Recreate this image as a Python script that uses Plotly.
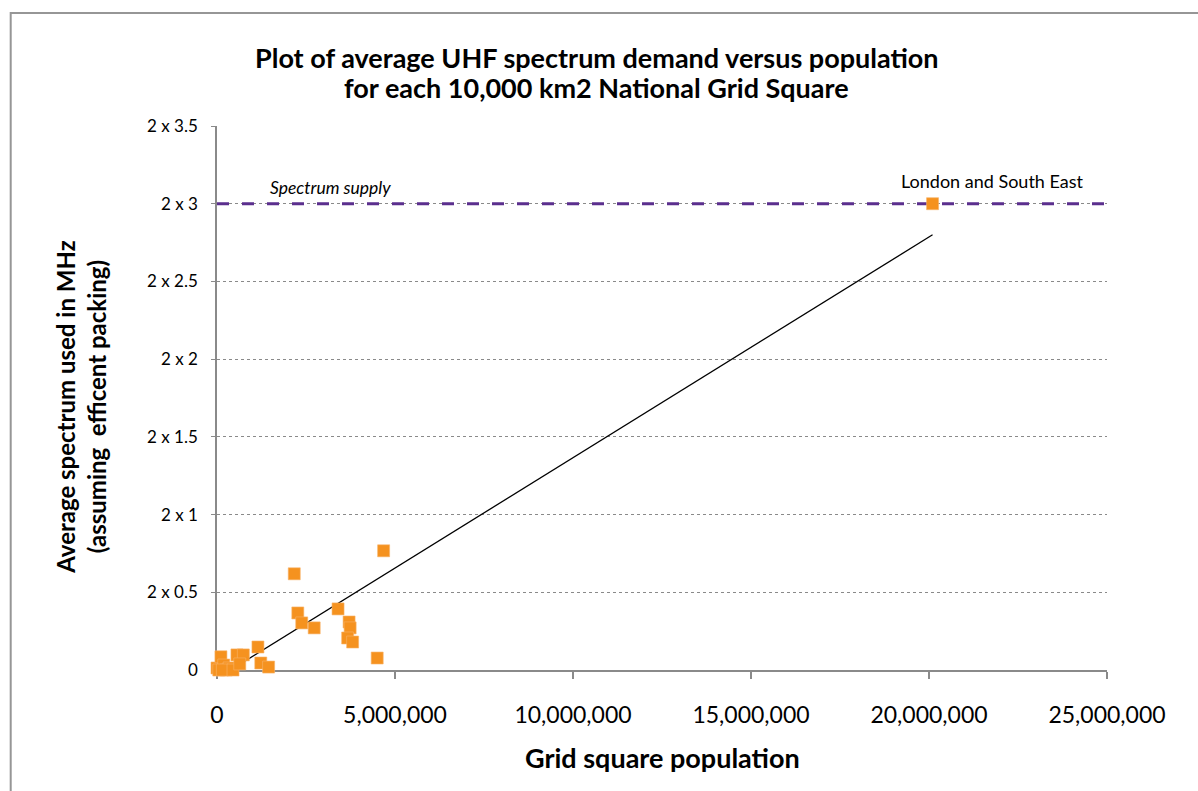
import plotly.graph_objects as go

# Grid square population vs. average UHF spectrum demand (units of 2 x N MHz)
population = [
    0, 50000, 110000, 190000, 260000, 340000, 150000, 450000,
    560000, 740000, 640000, 1150000, 1230000, 1450000,
    2170000, 2270000, 2380000, 2730000, 3400000, 3710000,
    3740000, 3670000, 3810000, 4500000, 4680000, 20100000,
]
demand = [
    0.013, 0.0, 0.085, 0.032, 0.0, 0.013, 0.0, 0.0,
    0.097, 0.097, 0.039, 0.148, 0.045, 0.019,
    0.619, 0.367, 0.303, 0.271, 0.393, 0.309,
    0.271, 0.206, 0.180, 0.077, 0.767, 3.0,
]

# Linear trend across the data range
trend_x = [380000, 20100000]
trend_y = [0.0, 2.80]

# Available spectrum
supply_level = 3.0
supply_x = [0, 25000000]

x_tick_vals = [0, 5000000, 10000000, 15000000, 20000000, 25000000]
y_tick_vals = [0, 0.5, 1, 1.5, 2, 2.5, 3, 3.5]
y_tick_text = ["0", "2 x 0.5", "2 x 1", "2 x 1.5", "2 x 2", "2 x 2.5", "2 x 3", "2 x 3.5"]

title_lines = [
    "Plot of average UHF spectrum demand versus population",
    "for each 10,000 km2 National Grid Square",
]

FONT = "Lato"
AXIS_GREY = "#8a8a8a"

fig = go.Figure()

fig.add_trace(go.Scatter(
    x=supply_x, y=[supply_level] * len(supply_x), mode="lines",
    line=dict(color="#5B2F8E", width=3, dash="12px,13px"),
    cliponaxis=False, hoverinfo="skip", showlegend=False,
))

fig.add_trace(go.Scatter(
    x=trend_x, y=trend_y, mode="lines",
    line=dict(color="black", width=1.3),
    hoverinfo="skip", showlegend=False,
))

fig.add_trace(go.Scatter(
    x=population, y=demand, mode="markers",
    marker=dict(symbol="square", size=12, color="#F5921F",
                line=dict(width=0.6, color="#F9B46A")),
    cliponaxis=False, showlegend=False,
))

annotations = [
    dict(text=f"<b>{line}</b>", xref="paper", yref="paper", x=0.4265, y=yp,
         xanchor="center", yanchor="middle", showarrow=False,
         font=dict(family=FONT, size=27, color="black"))
    for line, yp in zip(title_lines, [1.1268, 1.0699])
]
annotations += [
    dict(text="<b>Average spectrum used in MHz<br>(assuming  efficent packing)</b>",
         xref="paper", yref="paper", x=-0.153, y=0.4835,
         xanchor="center", yanchor="middle", textangle=-90, showarrow=False,
         font=dict(family=FONT, size=24, color="black")),
    dict(text="<b>Grid square population</b>",
         xref="paper", yref="paper", x=0.501, y=-0.161,
         xanchor="center", yanchor="middle", showarrow=False,
         font=dict(family=FONT, size=27, color="black")),
    dict(text="<i>Spectrum supply</i>",
         x=3180000, y=3.107, xanchor="center", yanchor="middle",
         showarrow=False, font=dict(family=FONT, size=17.5, color="black")),
    dict(text="London and South East",
         x=21790000, y=3.146, xanchor="center", yanchor="middle",
         showarrow=False, font=dict(family=FONT, size=18, color="black")),
]

fig.update_layout(
    width=1198, height=791,
    margin=dict(l=217, r=91, t=126, b=121),
    paper_bgcolor="white", plot_bgcolor="white",
    font=dict(family=FONT, color="black"),
    xaxis=dict(
        range=[0, 25000000], tickvals=x_tick_vals, tickformat=",d",
        showgrid=False, zeroline=False,
        showline=True, linecolor=AXIS_GREY, linewidth=1.5,
        ticks="outside", ticklen=7, tickcolor=AXIS_GREY, tickwidth=1.5,
        tickfont=dict(family=FONT, size=23, color="black"),
        ticklabelstandoff=17,
        layer="below traces",
    ),
    yaxis=dict(
        range=[0, 3.5], tickvals=y_tick_vals, ticktext=y_tick_text,
        showgrid=True, gridcolor=AXIS_GREY, gridwidth=1, griddash="dot",
        zeroline=False,
        showline=True, linecolor=AXIS_GREY, linewidth=1.5,
        ticks="outside", ticklen=4, tickcolor=AXIS_GREY, tickwidth=1.2,
        tickfont=dict(family=FONT, size=17, color="black"),
        ticklabelstandoff=10,
        layer="below traces",
    ),
    shapes=[dict(
        type="rect", xref="paper", yref="paper",
        x0=-0.2318, x1=1.2, y0=-0.24, y1=1.2077,
        line=dict(color="#969696", width=2), fillcolor="rgba(0,0,0,0)",
    )],
    annotations=annotations,
)

fig.write_html("out.html")
